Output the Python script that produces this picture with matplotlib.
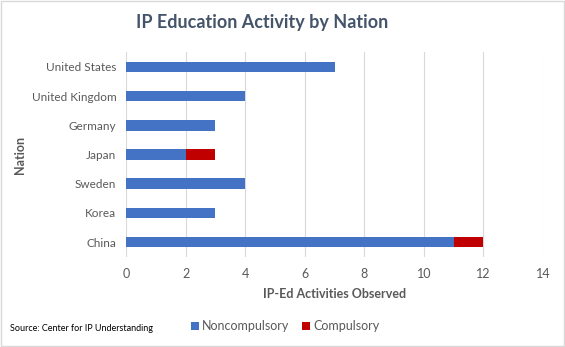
import matplotlib
matplotlib.use("Agg")
import matplotlib.pyplot as plt
import numpy as np

plt.rcParams['font.family'] = ['Lato', 'DejaVu Sans']

nations = ['United States', 'United Kingdom', 'Germany', 'Japan', 'Sweden', 'Korea', 'China']
noncompulsory = [7, 4, 3, 2, 4, 3, 11]
compulsory = [0, 0, 0, 1, 0, 0, 1]
xticks = [0, 2, 4, 6, 8, 10, 12, 14]

BLUE = '#4472C4'
RED = '#C00000'
TXT = '#595959'

fig = plt.figure(figsize=(5.65, 3.47), dpi=100)
ax = fig.add_axes([0.2230, 0.2605, 0.7381, 0.5885])

y = np.arange(len(nations))
ax.barh(y, noncompulsory, height=0.36, color=BLUE, label='Noncompulsory', zorder=3)
ax.barh(y, compulsory, left=noncompulsory, height=0.36, color=RED, label='Compulsory', zorder=3)

ax.set_ylim(len(nations) - 0.5, -0.5)
ax.set_yticks(y)
ax.set_yticklabels(nations, fontsize=8.5, color=TXT)
ax.set_xlim(0, 14)
ax.set_xticks(xticks)
ax.set_xticklabels([str(t) for t in xticks], fontsize=9, color=TXT)
ax.tick_params(length=0, pad=8)
ax.tick_params(axis='y', pad=7)
ax.grid(axis='x', color='#D9D9D9', lw=0.8, zorder=0)
for s in ax.spines.values():
    s.set_visible(False)

ax.set_xlabel('IP-Ed Activities Observed', fontsize=9, fontweight='bold', color=TXT, labelpad=6)
ax.set_ylabel('Nation', fontsize=9, fontweight='bold', color=TXT)
ax.yaxis.set_label_coords(-0.24, 0.5)

fig.suptitle('IP Education Activity by Nation', x=0.464, y=0.96, fontsize=13,
             fontweight='bold', color='#44546A')

fig.legend(loc='center', bbox_to_anchor=(0.505, 0.06), ncol=2, frameon=False,
           fontsize=9, handlelength=0.6, handleheight=0.6, handletextpad=0.3,
           columnspacing=1.0, labelcolor=TXT)

fig.text(0.018, 0.045, 'Source: Center for IP Understanding', fontsize=6.5, color='black')

fig.patches.append(plt.Rectangle((0.002, 0.002), 0.996, 0.996, transform=fig.transFigure,
                                 fill=False, edgecolor='#D9D9D9', lw=1))

fig.savefig('out.png', dpi=100)
